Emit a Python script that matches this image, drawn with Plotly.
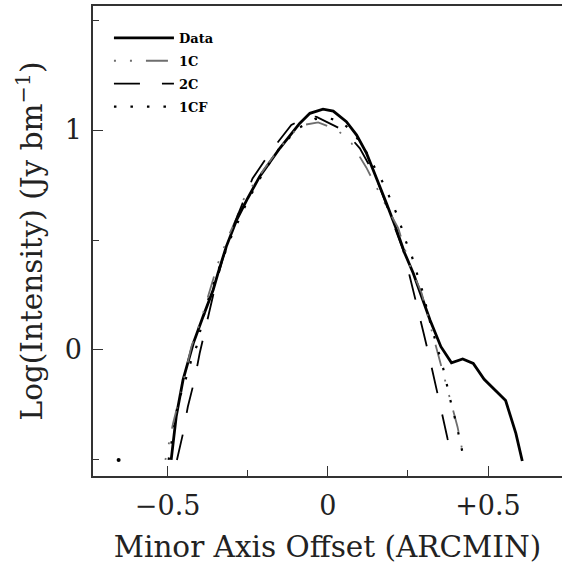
import plotly.graph_objects as go

# ---- data ----
data_x = [-0.489, -0.473, -0.452, -0.42, -0.39, -0.358, -0.343, -0.317, -0.285, -0.25, -0.213, -0.15,
          -0.088, -0.056, -0.015, 0.017, 0.058, 0.09, 0.121, 0.157, 0.183, 0.215, 0.24, 0.267, 0.295,
          0.319, 0.353, 0.386, 0.421, 0.454, 0.488, 0.555, 0.587, 0.607]
data_y = [-0.50, -0.30, -0.136, 0.03, 0.15, 0.273, 0.348, 0.47, 0.59, 0.69, 0.788, 0.917,
          1.03, 1.076, 1.095, 1.086, 1.038, 0.977, 0.894, 0.765, 0.667, 0.545, 0.44, 0.348, 0.235,
          0.136, 0.015, -0.058, -0.041, -0.061, -0.133, -0.23, -0.379, -0.505]

c1_x = [-0.507, -0.483, -0.46, -0.426, -0.395, -0.369, -0.343, -0.311, -0.285, -0.265, -0.22, -0.15,
        -0.088, -0.03, 0.03, 0.074, 0.12, 0.173, 0.22, 0.256, 0.293, 0.335, 0.36, 0.381, 0.405, 0.426]
c1_y = [-0.5, -0.333, -0.2, 0.015, 0.14, 0.273, 0.394, 0.515, 0.6, 0.68, 0.78, 0.92,
        1.02, 1.035, 1.0, 0.94, 0.83, 0.68, 0.553, 0.386, 0.258, 0.03, -0.106, -0.212, -0.35, -0.5]

c2_x = [-0.471, -0.452, -0.437, -0.416, -0.4, -0.379, -0.353, -0.327, -0.29, -0.235, -0.171, -0.114,
        -0.06, -0.035, 0.0375, 0.074, 0.1, 0.152, 0.2, 0.235, 0.256, 0.275, 0.298, 0.317, 0.3375,
        0.355, 0.374, 0.39]
c2_y = [-0.5, -0.379, -0.258, -0.136, -0.015, 0.114, 0.28, 0.42, 0.58, 0.78, 0.917, 1.023,
        1.065, 1.06, 1.007, 0.96, 0.917, 0.78, 0.59, 0.455, 0.333, 0.214, 0.083, -0.033, -0.159,
        -0.28, -0.405, -0.5]

cf_x = [-0.497, -0.466, -0.444, -0.427, -0.41, -0.38, -0.34, -0.3, -0.25, -0.2, -0.15, -0.09, -0.04,
        0.0, 0.04, 0.079, 0.12, 0.142, 0.173, 0.199, 0.223, 0.24, 0.2615, 0.28, 0.298, 0.315, 0.345,
        0.36, 0.386, 0.402, 0.426]
cf_y = [-0.5, -0.233, -0.135, -0.05, 0.015, 0.2, 0.37, 0.52, 0.68, 0.81, 0.92, 1.01, 1.05,
        1.055, 1.04, 0.99, 0.9, 0.84, 0.758, 0.674, 0.59, 0.507, 0.43, 0.34, 0.255, 0.15, 0.0,
        -0.083, -0.25, -0.34, -0.505]

dot_x = [-0.653]
dot_y = [-0.5]

x_tickvals = [-0.5, 0, 0.5]
x_ticktext = ["\u22120.5", "0", "+0.5"]
y_tickvals = [0, 1]
y_ticktext = ["0", "1"]

X_RANGE = [-0.733, 0.731]
Y_RANGE = [-0.573, 1.564]

fig = go.Figure()
fig.add_trace(go.Scatter(x=data_x, y=data_y, mode="lines", name="Data", legendgroup="a",
                         line=dict(color="black", width=2.8)))
fig.add_trace(go.Scatter(x=c1_x, y=c1_y, mode="lines", name="1C", legendgroup="b",
                         line=dict(color="#6e6e6e", width=1.8, dash="2px,14px,2px,14px,22px,14px")))
fig.add_trace(go.Scatter(x=c2_x, y=c2_y, mode="lines", name="2C", legendgroup="c",
                         line=dict(color="black", width=1.8, dash="26px,22px")))
fig.add_trace(go.Scatter(x=cf_x, y=cf_y, mode="lines", name="1CF", legendgroup="d",
                         line=dict(color="black", width=2.2, dash="2.5px,14px")))
fig.add_trace(go.Scatter(x=dot_x, y=dot_y, mode="markers", showlegend=False, xaxis="x2",
                         marker=dict(color="black", size=4)))

tick_font = dict(family="DejaVu Serif", size=27, color="#222")
title_font = dict(family="DejaVu Serif", size=29.5, color="#222")
fig.update_layout(
    width=562, height=564,
    margin=dict(l=93, r=0, t=6, b=88, autoexpand=False),
    paper_bgcolor="white", plot_bgcolor="white",
    showlegend=True,
    legend=dict(x=0.034, y=0.964, xanchor="left", yanchor="top",
                traceorder="grouped", tracegroupgap=3, itemwidth=60,
                font=dict(family="DejaVu Serif", size=13, color="black", weight="bold"),
                bgcolor="rgba(0,0,0,0)"),
    xaxis=dict(range=X_RANGE, showgrid=False, zeroline=False, automargin=False,
               showline=True, linecolor="#333", linewidth=1.5, mirror=True,
               ticks="outside", ticklen=5, tickcolor="rgba(0,0,0,0)",
               tickvals=x_tickvals, ticktext=x_ticktext, tickfont=tick_font,
               minor=dict(dtick=0.25, tick0=0, ticks="inside", ticklen=6, tickcolor="#333"),
               title=dict(text="Minor Axis Offset (ARCMIN)", font=title_font, standoff=17)),
    xaxis2=dict(range=X_RANGE, overlaying="x", anchor="y", side="bottom",
                showgrid=False, zeroline=False, showline=False, automargin=False,
                ticks="inside", ticklen=10, tickwidth=1, tickcolor="#333",
                tickvals=x_tickvals, showticklabels=False),
    yaxis=dict(range=Y_RANGE, showgrid=False, zeroline=False, automargin=False,
               showline=True, linecolor="#333", linewidth=1.5, mirror=False,
               ticks="inside", ticklen=10, tickwidth=1, tickcolor="#333",
               tickvals=y_tickvals, ticktext=y_ticktext, tickfont=tick_font, ticklabelstandoff=4,
               minor=dict(dtick=0.5, tick0=0, ticks="inside", ticklen=6, tickcolor="#333"),
               title=dict(text="Log(Intensity) (Jy bm<sup>\u22121</sup>)", font=title_font, standoff=13)),
)

fig.write_html("out.html", config={"displayModeBar": False},
               post_script="document.body.style.margin='0';document.body.style.overflow='hidden';")
